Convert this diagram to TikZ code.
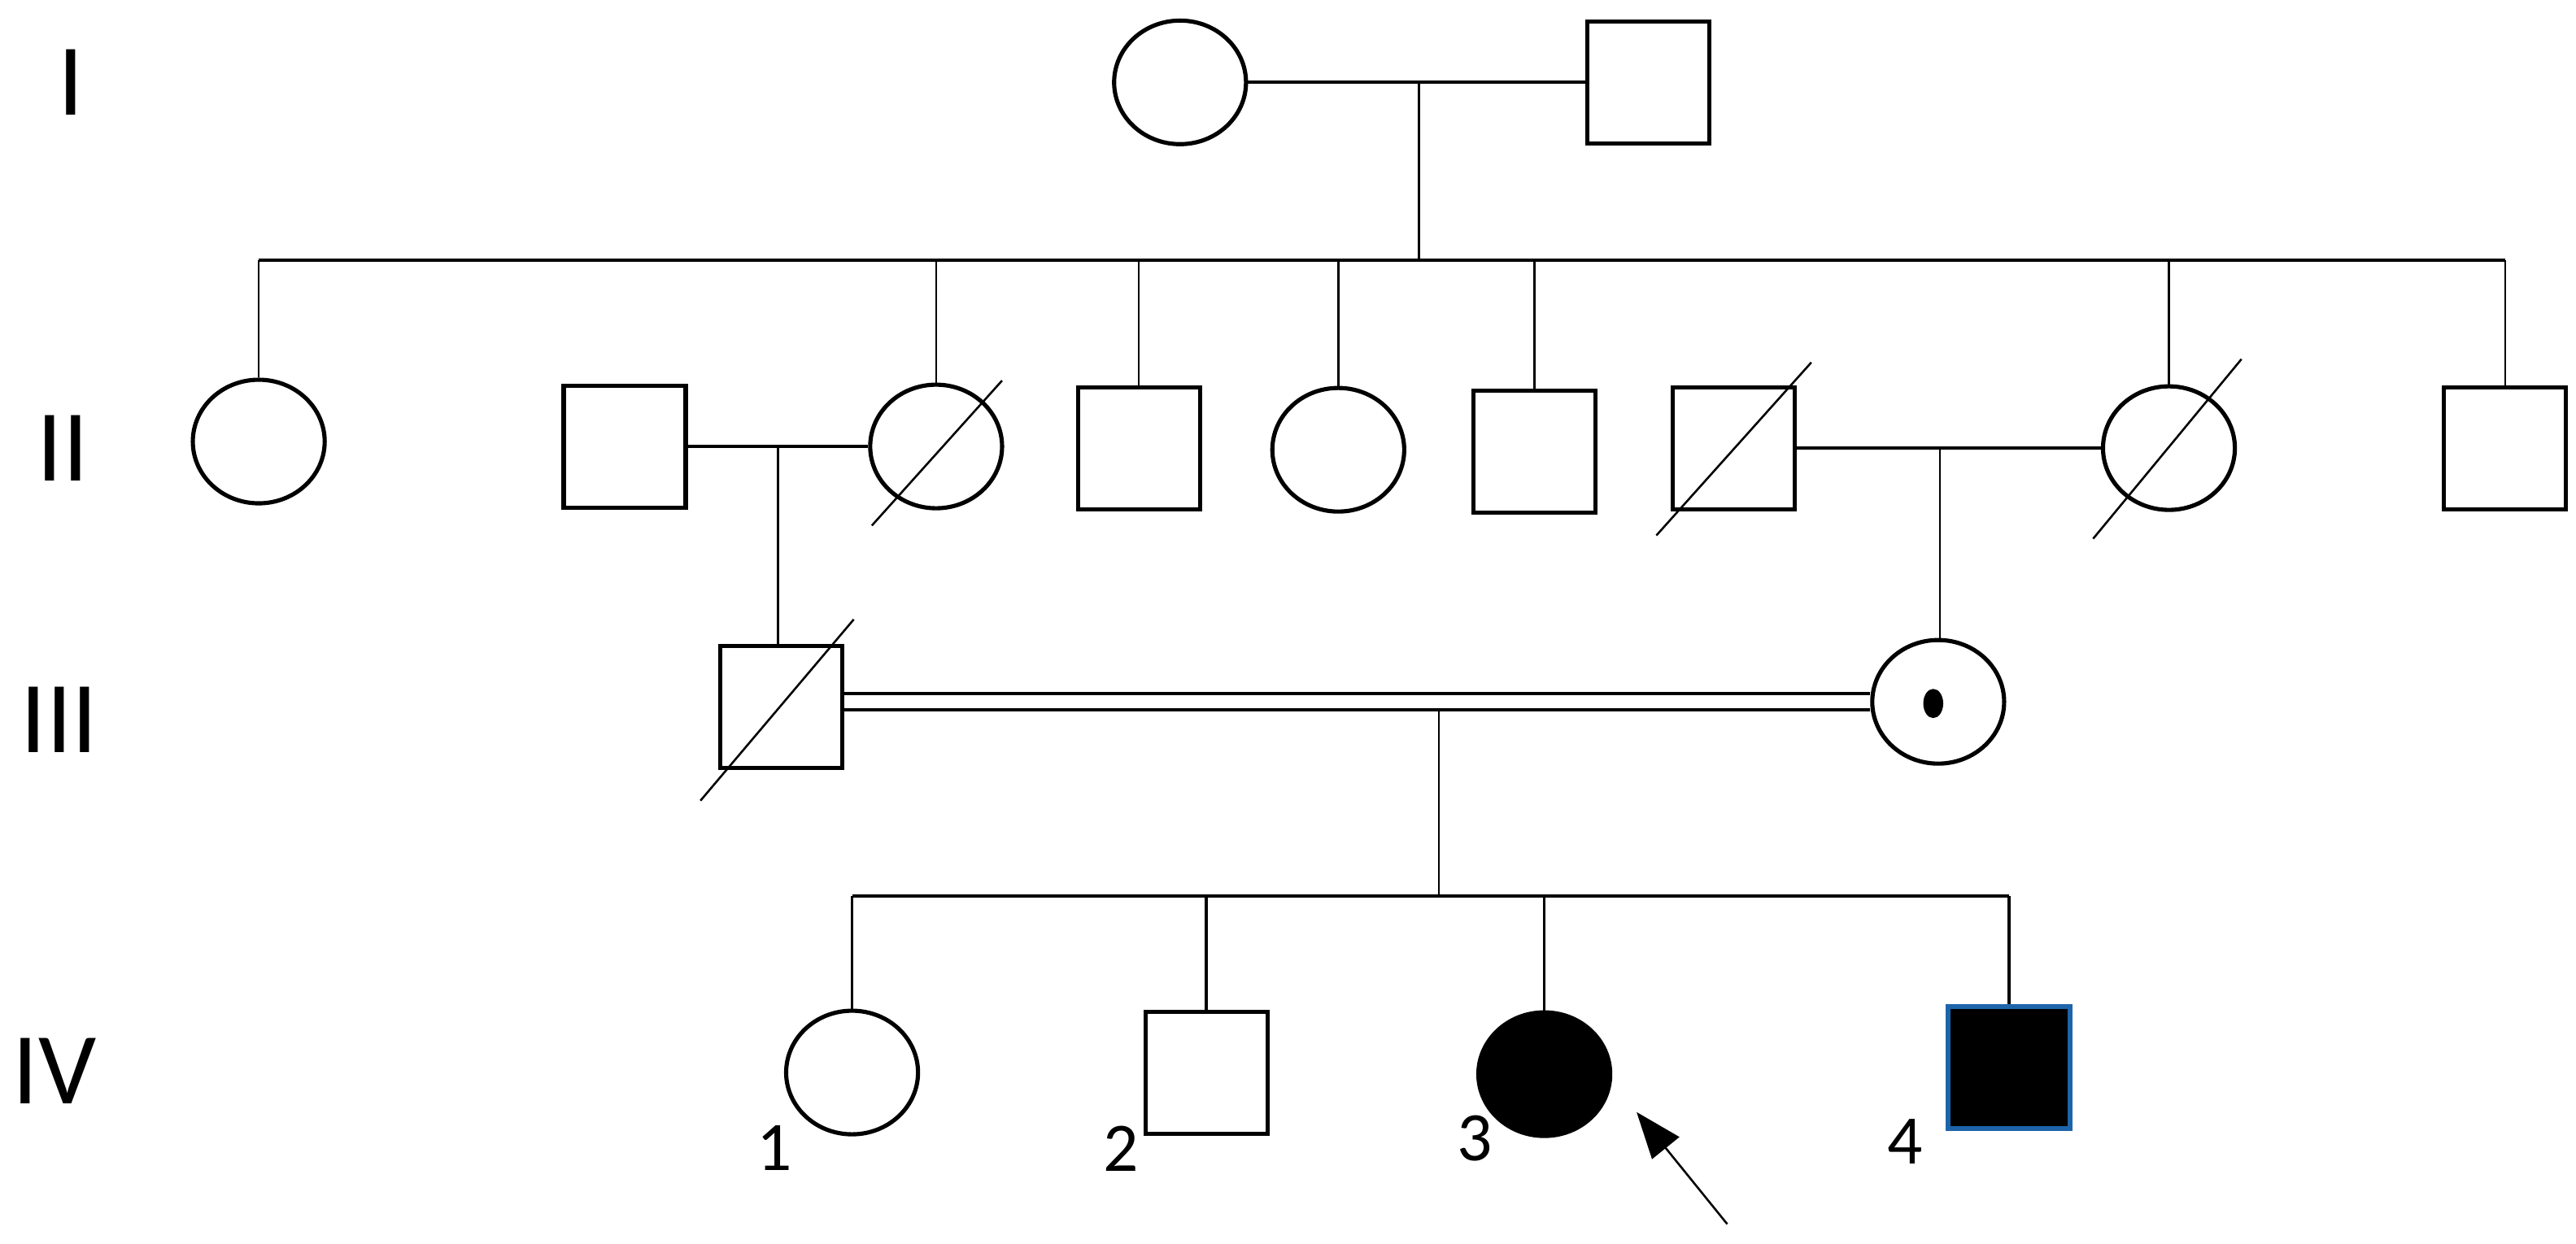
\documentclass[tikz,border=0pt]{standalone}
\usepackage{fontspec}
\setmainfont{Carlito}
\usetikzlibrary{shapes.geometric,arrows.meta,calc}
\definecolor{edgeblue}{RGB}{30,100,170}

\tikzset{
  female/.style={ellipse, draw, line width=1.8pt, minimum width=2cm, minimum height=1.875cm, inner sep=0pt},
  male/.style={rectangle, draw, line width=1.8pt, minimum size=1.85cm, inner sep=0pt},
  link/.style={line width=0.9pt},
  linkk/.style={line width=1.3pt},
  gen/.style={font=\fontsize{44}{48}\selectfont},
  num/.style={font=\fontsize{30}{32}\selectfont}
}

\begin{document}
\begin{tikzpicture}[x=0.025cm, y=-0.025cm]
  \useasboundingbox (0,0) rectangle (1563,755);

  % generation labels
  \node[gen] (gI) at (43,50) {I};
  \node[gen] (gII) at (38,272) {II};
  \node[gen] (gIII) at (36,437) {III};
  \node[gen] (gIV) at (33,650) {IV};

  % generation I
  \node[female] (I1) at (716,50) {};
  \node[male] (I2) at (1000,50) {};
  \coordinate (m1) at (861,50);
  \coordinate (s1) at (861,158);
  \draw[linkk] (I1) -- (I2);
  \draw[link] (m1) -- (s1);

  % generation II
  \node[female] (II1) at (157,268) {};
  \node[male] (II2) at (379,271) {};
  \node[female] (II3) at (568,271) {};
  \node[male] (II4) at (691,272) {};
  \node[female] (II5) at (812,273) {};
  \node[male] (II6) at (931,274) {};
  \node[male] (II7) at (1052,272) {};
  \node[female] (II8) at (1316,272) {};
  \node[male] (II9) at (1520,272) {};

  \draw[linkk] (II1.north |- s1) -- (II9.north |- s1);
  \foreach \k in {II1,II3,II4,II5,II6,II8,II9}
    \draw[link] (\k.north |- s1) -- (\k.north);

  % deceased
  \draw[link] ($(II3)+(-39,48)$) -- ($(II3)+(40,-40)$);
  \draw[link] ($(II7)+(-47,53)$) -- ($(II7)+(47,-52)$);
  \draw[link] ($(II8)+(-46,55)$) -- ($(II8)+(44,-54)$);

  \coordinate (m2) at (472,272);
  \coordinate (m3) at (1177,272);
  \draw[linkk] (II2) -- (II3);
  \draw[linkk] (II7) -- (II8);

  % generation III
  \node[male] (III1) at (474,429) {};
  \node[female] (III2) at (1176,426) {};
  \fill ($(III2)+(-3,1)$) ellipse [x radius=4.3pt, y radius=6.3pt];
  \draw[link] ($(III1)+(-49,57)$) -- ($(III1)+(44,-53)$);
  \draw[link] (m2) -- (m2 |- III1.north);
  \draw[link] (m3) -- (m3 |- III2.north);

  \coordinate (cm) at (873,426);
  \draw[linkk] ($(III1.east |- cm)+(0,-5)$) -- ($(III2.west |- cm)+(0,-5)$);
  \draw[linkk] ($(III1.east |- cm)+(0,5)$) -- ($(III2.west |- cm)+(0,5)$);
  \coordinate (s3) at (873,544);
  \draw[link] ($(cm)+(0,5)$) -- (s3);

  % generation IV
  \node[female] (IV1) at (517,651) {};
  \node[male] (IV2) at (732,651) {};
  \node[female, fill=black] (IV3) at (937,652) {};
  \node[male, draw=edgeblue, fill=black] (IV4) at (1219,648) {};

  \draw[linkk] (IV1.north |- s3) -- (IV4.north |- s3);
  \foreach \k in {IV1,IV2,IV3,IV4}
    \draw[linkk] (\k.north |- s3) -- (\k.north);

  \node[num] (n1) at (470,697) {1};
  \node[num] (n2) at (680,697) {2};
  \node[num] (n3) at (895,691) {3};
  \node[num] (n4) at (1156,693) {4};

  % proband
  \coordinate (tail) at (1048,743);
  \coordinate (tip) at (993,675);
  \draw[link, -{Triangle[length=20pt,width=15pt]}] (tail) -- (tip);
\end{tikzpicture}
\end{document}
